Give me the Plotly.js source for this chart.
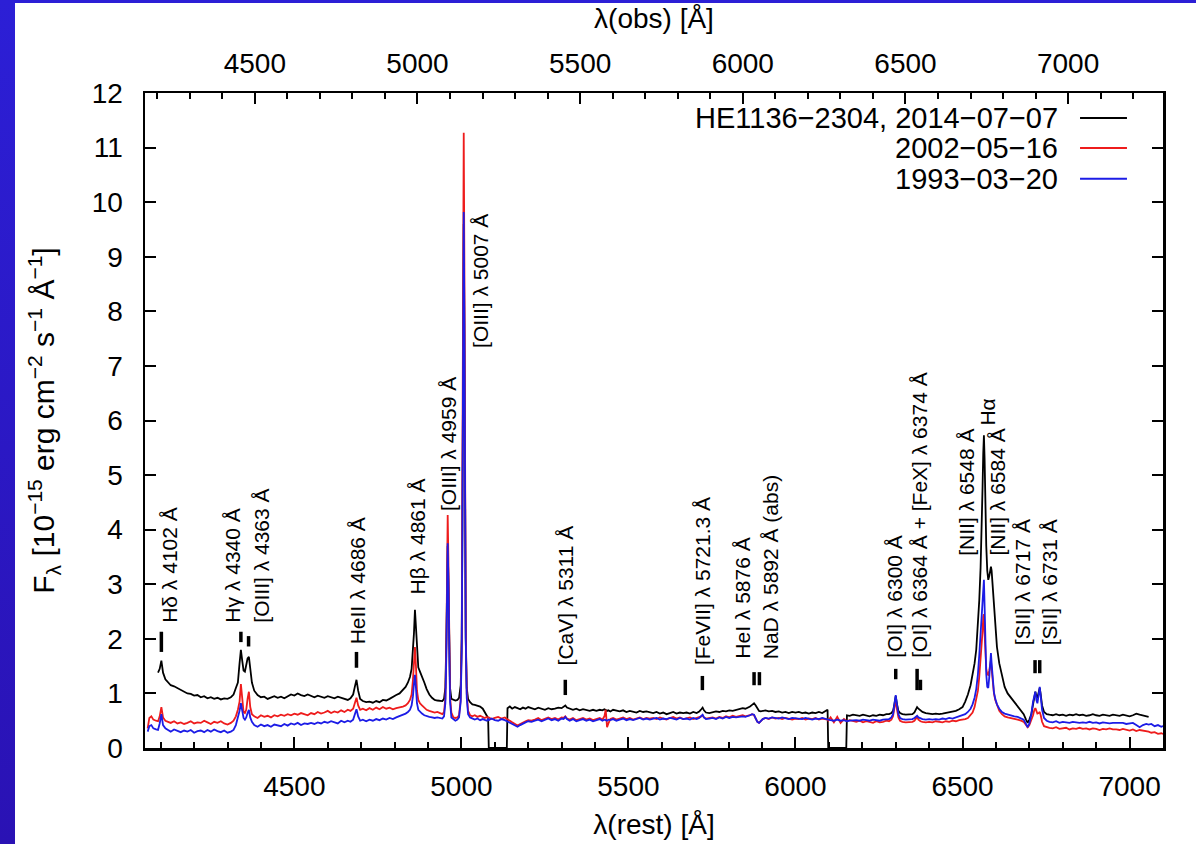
<!DOCTYPE html>
<html>
<head>
<meta charset="utf-8">
<script src="https://cdn.plot.ly/plotly-3.0.1.min.js"></script>
<style>
html,body{margin:0;padding:0;width:1196px;height:844px;overflow:hidden;background:linear-gradient(to bottom,#2c1fd6,#2a12b4);}
#plot{position:absolute;left:15px;top:3px;width:1181px;height:841px;background:#fff;}
</style>
</head>
<body>
<div id="plot"></div>
<script>
// rest-frame wavelength grid [Å]
const wave = [
4061,4066,4072,4078,4086,4092,4097,4102,4107,4114,
4122,4130,4140,4150,4160,4170,4180,4190,4200,4210,
4220,4230,4240,4250,4260,4270,4280,4290,4300,4310,
4318,4325,4331,4336,4340,4344,4348,4352,4356,4360,
4364,4368,4373,4380,4390,4400,4410,4420,4430,4440,
4450,4460,4470,4480,4490,4500,4510,4520,4530,4540,
4550,4560,4570,4580,4590,4600,4610,4620,4630,4640,
4650,4660,4668,4676,4681,4686,4691,4697,4705,4715,
4725,4735,4745,4755,4765,4775,4785,4795,4805,4815,
4825,4833,4840,4846,4851,4855,4858,4861,4864,4867,
4871,4876,4882,4889,4896,4904,4912,4920,4928,4936,
4943,4948,4952,4955,4957,4959,4961,4963,4966,4970,
4976,4982,4988,4993,4998,5001,5003,5005,5007,5009,
5011,5013,5016,5020,5026,5033,5040,5048,5056,5064,
5070,5076,5080,5082,5090,5100,5110,5120,5130,5136,
5138,5145,5152,5160,5168,5176,5184,5192,5200,5210,
5220,5230,5240,5250,5260,5270,5280,5290,5300,5306,
5311,5316,5324,5334,5344,5354,5364,5374,5384,5394,
5404,5414,5422,5428,5432,5436,5440,5446,5454,5464,
5474,5484,5494,5504,5514,5524,5534,5544,5554,5564,
5574,5584,5594,5604,5614,5624,5634,5644,5654,5664,
5674,5684,5694,5704,5712,5718,5722,5726,5732,5742,
5752,5762,5772,5782,5792,5802,5812,5822,5832,5842,
5850,5858,5864,5870,5876,5881,5886,5891,5896,5902,
5910,5920,5930,5940,5950,5960,5970,5980,5990,6000,
6010,6020,6030,6040,6050,6060,6070,6080,6090,6096,
6098,6105,6115,6125,6135,6145,6152,6154,6162,6172,
6182,6192,6202,6212,6222,6232,6242,6252,6262,6272,
6280,6287,6292,6296,6300,6304,6308,6313,6320,6330,
6340,6350,6356,6360,6364,6368,6374,6380,6390,6400,
6410,6420,6430,6440,6450,6460,6470,6480,6490,6500,
6508,6516,6524,6530,6536,6541,6546,6550,6554,6557,
6560,6562,6564,6566,6568,6571,6574,6577,6580,6583,
6585,6587,6590,6594,6598,6603,6610,6618,6626,6635,
6645,6655,6665,6675,6683,6690,6695,6700,6706,6711,
6715,6718,6721,6724,6728,6731,6734,6738,6744,6752,
6760,6770,6780,6790,6800,6810,6820,6830,6840,6850,
6860,6870,6880,6890,6900,6910,6920,6930,6940,6950,
6960,6970,6980,6990,7000,7010,7020,7030,7040,7050,
7057,7065,7075,7085,7095,7104
];

// HE1136-2304, 2014-07-07 (black)
const flux2014 = [
null,null,null,null,null,1.38,1.45,1.60,1.38,1.26,
1.20,1.15,1.13,1.10,1.06,1.04,1.00,0.99,0.96,0.97,
0.93,0.95,0.91,0.93,0.90,0.92,0.89,0.91,0.90,0.93,
0.98,1.10,1.20,1.55,1.80,1.60,1.42,1.40,1.50,1.64,
1.67,1.45,1.20,1.05,0.97,0.93,0.94,0.90,0.92,0.95,
0.92,0.94,0.91,0.95,0.98,0.96,1.00,0.97,0.95,0.98,
0.95,0.93,0.96,0.94,0.92,0.95,0.93,0.91,0.94,0.92,
0.90,0.88,0.91,0.98,1.12,1.25,1.05,0.90,0.86,0.84,
0.85,0.83,0.86,0.84,0.88,0.87,0.90,0.94,0.97,1.00,
1.06,1.12,1.20,1.30,1.45,1.75,2.10,2.53,2.20,1.70,
1.48,1.40,1.32,1.20,1.08,0.98,0.92,0.88,0.87,0.86,
0.86,0.90,1.10,2.00,3.10,3.70,3.10,2.00,1.10,0.90,
0.88,0.87,0.88,0.92,1.15,2.00,4.00,7.40,9.60,7.60,
4.10,2.00,1.10,0.90,0.84,0.80,0.79,0.78,0.76,0.72,
0.66,0.58,0.55,0,0,0,0,0,0,0,
0.73,0.76,0.72,0.75,0.73,0.71,0.74,0.72,0.75,0.73,
0.71,0.74,0.72,0.70,0.73,0.71,0.72,0.74,0.73,0.75,
0.78,0.74,0.72,0.70,0.72,0.69,0.71,0.70,0.68,0.70,
0.68,0.70,0.69,0.71,0.70,0.68,0.69,0.67,0.70,0.68,
0.67,0.69,0.66,0.68,0.67,0.65,0.68,0.66,0.67,0.65,
0.64,0.66,0.63,0.65,0.62,0.64,0.66,0.63,0.65,0.64,
0.65,0.63,0.66,0.64,0.67,0.71,0.74,0.69,0.65,0.64,
0.65,0.67,0.66,0.68,0.67,0.69,0.68,0.70,0.71,0.73,
0.72,0.74,0.76,0.79,0.82,0.78,0.72,0.68,0.67,0.68,
0.69,0.67,0.68,0.66,0.67,0.65,0.66,0.64,0.66,0.65,
0.66,0.64,0.65,0.63,0.65,0.64,0.66,0.64,0.67,0.70,
0,0,0,0,0,0,0,0.60,0.59,0.61,
0.60,0.59,0.61,0.60,0.58,0.60,0.59,0.61,0.60,0.62,
0.62,0.64,0.68,0.80,0.95,0.80,0.68,0.64,0.62,0.61,
0.61,0.62,0.65,0.70,0.75,0.72,0.69,0.66,0.64,0.63,
0.62,0.63,0.62,0.63,0.64,0.65,0.66,0.68,0.71,0.75,
0.85,0.98,1.15,1.32,1.55,1.80,2.20,2.70,3.30,3.90,
4.80,5.40,5.73,5.30,4.50,3.70,3.25,3.08,3.15,3.30,
3.32,3.25,3.00,2.60,2.20,1.85,1.55,1.30,1.12,1.00,
0.92,0.85,0.78,0.70,0.62,0.52,0.46,0.52,0.62,0.80,
0.95,1.03,0.95,0.92,1.02,1.10,0.98,0.78,0.66,0.62,
0.61,0.60,0.62,0.60,0.61,0.59,0.61,0.60,0.62,0.60,
0.61,0.59,0.60,0.62,0.60,0.59,0.61,0.60,0.59,0.61,
0.60,0.59,0.61,0.60,0.58,0.60,0.63,0.61,0.59,0.58,
0.57,null,null,null,null,null
];

// 2002-05-16 (red)
const flux2002 = [
0.36,0.55,0.58,0.52,0.50,0.49,0.58,0.75,0.56,0.50,
0.48,0.46,0.49,0.45,0.47,0.44,0.46,0.49,0.45,0.47,
0.46,0.50,0.47,0.44,0.48,0.46,0.49,0.45,0.43,0.46,
0.50,0.58,0.70,0.85,1.17,0.85,0.66,0.64,0.70,0.90,
1.03,0.75,0.62,0.58,0.55,0.60,0.57,0.59,0.56,0.60,
0.58,0.61,0.59,0.62,0.60,0.63,0.61,0.64,0.62,0.60,
0.64,0.62,0.66,0.63,0.65,0.68,0.64,0.67,0.65,0.69,
0.66,0.70,0.68,0.72,0.82,0.92,0.78,0.70,0.72,0.69,
0.73,0.70,0.74,0.71,0.75,0.72,0.74,0.71,0.73,0.74,
0.76,0.78,0.82,0.88,0.98,1.25,1.60,1.85,1.50,1.05,
0.88,0.82,0.78,0.74,0.70,0.68,0.67,0.65,0.66,0.64,
0.62,0.66,0.90,1.90,3.40,4.27,3.50,2.00,0.95,0.65,
0.56,0.55,0.56,0.60,0.90,2.00,4.50,8.50,11.27,8.80,
4.80,2.20,1.00,0.68,0.60,0.58,0.60,0.57,0.59,0.56,
0.55,0.57,0.54,0.56,0.53,0.55,0.57,0.54,0.56,0.53,
0.52,0.50,0.47,0.44,0.41,0.44,0.47,0.49,0.51,0.50,
0.52,0.55,0.51,0.54,0.56,0.53,0.55,0.52,0.56,0.55,
0.58,0.54,0.52,0.55,0.51,0.53,0.55,0.52,0.54,0.51,
0.53,0.55,0.52,0.58,0.70,0.38,0.45,0.53,0.55,0.52,
0.54,0.56,0.53,0.55,0.52,0.54,0.56,0.53,0.55,0.54,
0.55,0.53,0.56,0.54,0.52,0.55,0.57,0.54,0.56,0.53,
0.54,0.56,0.53,0.55,0.56,0.58,0.60,0.56,0.54,0.55,
0.56,0.54,0.57,0.55,0.58,0.56,0.59,0.57,0.58,0.60,
0.58,0.59,0.60,0.62,0.60,0.54,0.48,0.46,0.49,0.53,
0.55,0.53,0.56,0.54,0.55,0.53,0.55,0.54,0.52,0.54,
0.53,0.55,0.52,0.54,0.53,0.55,0.52,0.54,0.53,0.52,
0.50,0.56,0.47,0.57,0.46,0.53,0.50,0.49,0.51,0.49,
0.48,0.50,0.47,0.49,0.48,0.46,0.49,0.47,0.48,0.50,
0.49,0.52,0.58,0.72,0.88,0.70,0.56,0.50,0.48,0.47,
0.47,0.48,0.50,0.54,0.57,0.52,0.49,0.48,0.47,0.48,
0.47,0.49,0.48,0.47,0.49,0.48,0.50,0.49,0.51,0.52,
0.53,0.55,0.60,0.65,0.75,0.88,1.05,1.30,1.60,1.85,
2.15,2.40,2.45,2.10,1.75,1.45,1.35,1.34,1.42,1.58,
1.61,1.45,1.20,1.00,0.88,0.78,0.68,0.62,0.58,0.56,
0.55,0.54,0.52,0.50,0.48,0.42,0.38,0.42,0.50,0.60,
0.70,0.73,0.68,0.63,0.64,0.66,0.60,0.48,0.40,0.38,
0.37,0.36,0.38,0.35,0.36,0.37,0.34,0.36,0.35,0.37,
0.35,0.36,0.34,0.36,0.35,0.33,0.35,0.34,0.36,0.34,
0.34,0.33,0.35,0.33,0.32,0.34,0.31,0.33,0.32,0.30,
0.30,0.28,0.29,0.26,0.27,0.25
];

// 1993-03-20 (blue)
const flux1993 = [
0.30,0.40,0.42,0.36,0.34,0.33,0.45,0.62,0.42,0.36,
0.33,0.30,0.34,0.31,0.29,0.32,0.30,0.33,0.28,0.31,
0.32,0.29,0.33,0.30,0.34,0.31,0.29,0.32,0.28,0.30,
0.33,0.42,0.55,0.68,0.82,0.68,0.55,0.52,0.56,0.64,
0.70,0.56,0.48,0.42,0.39,0.43,0.40,0.42,0.39,0.43,
0.42,0.40,0.44,0.41,0.45,0.43,0.46,0.42,0.45,0.44,
0.46,0.44,0.47,0.45,0.48,0.46,0.49,0.47,0.45,0.50,
0.47,0.50,0.48,0.52,0.62,0.71,0.58,0.50,0.52,0.49,
0.52,0.50,0.53,0.51,0.54,0.52,0.55,0.53,0.56,0.58,
0.61,0.63,0.66,0.70,0.78,0.95,1.18,1.34,1.10,0.82,
0.70,0.66,0.63,0.60,0.58,0.57,0.56,0.55,0.56,0.55,
0.54,0.58,0.82,1.70,3.00,3.75,3.10,1.80,0.85,0.56,
0.52,0.50,0.52,0.56,0.85,1.80,4.00,7.50,9.82,7.80,
4.20,2.00,0.92,0.62,0.56,0.54,0.52,0.54,0.51,0.53,
0.52,0.50,0.53,0.51,0.54,0.51,0.50,0.53,0.51,0.49,
0.48,0.46,0.43,0.41,0.39,0.42,0.45,0.47,0.49,0.48,
0.50,0.52,0.49,0.52,0.54,0.51,0.53,0.50,0.54,0.53,
0.57,0.53,0.50,0.53,0.49,0.51,0.53,0.50,0.52,0.49,
0.51,0.53,0.50,0.52,0.51,0.50,0.52,0.51,0.53,0.50,
0.52,0.54,0.51,0.53,0.51,0.53,0.55,0.52,0.54,0.52,
0.53,0.55,0.52,0.54,0.53,0.55,0.54,0.52,0.55,0.53,
0.54,0.52,0.55,0.53,0.55,0.58,0.61,0.56,0.53,0.54,
0.55,0.53,0.56,0.54,0.57,0.55,0.57,0.56,0.57,0.58,
0.57,0.58,0.60,0.62,0.61,0.54,0.48,0.46,0.49,0.53,
0.55,0.54,0.56,0.55,0.54,0.56,0.55,0.53,0.55,0.54,
0.54,0.53,0.55,0.54,0.52,0.54,0.53,0.55,0.54,0.53,
0.52,0.51,0.50,0.52,0.50,0.51,0.50,0.49,0.50,0.51,
0.51,0.50,0.52,0.51,0.50,0.52,0.51,0.50,0.52,0.53,
0.53,0.56,0.62,0.80,0.97,0.78,0.62,0.55,0.53,0.52,
0.52,0.53,0.55,0.57,0.59,0.56,0.54,0.53,0.52,0.53,
0.52,0.53,0.52,0.54,0.53,0.55,0.54,0.56,0.57,0.59,
0.62,0.66,0.72,0.80,0.92,1.08,1.35,1.70,2.10,2.50,
2.85,3.05,3.08,2.60,1.90,1.35,1.12,1.10,1.30,1.65,
1.74,1.55,1.25,1.02,0.90,0.80,0.72,0.66,0.63,0.61,
0.60,0.58,0.57,0.55,0.52,0.44,0.38,0.45,0.62,0.85,
1.00,1.03,0.88,0.82,0.98,1.12,0.95,0.70,0.55,0.50,
0.48,0.47,0.49,0.46,0.48,0.47,0.46,0.48,0.47,0.46,
0.47,0.46,0.48,0.46,0.47,0.45,0.47,0.46,0.45,0.46,
0.46,0.45,0.46,0.44,0.45,0.46,0.42,0.38,0.42,0.44,
0.43,0.44,0.40,0.42,0.39,0.41
];

const seriesNames = ['HE1136\u22122304, 2014\u221207\u221207', '2002\u221205\u221216', '1993\u221203\u221220'];
const seriesColors = ['#000000', '#ee1c1c', '#1c1ce6'];
const redshift = 0.027;

// emission-line identifications: label text, label position (rest Å), label base (flux)
const lineLabels = [
  'H\u03b4 \u03bb 4102 \u00c5', 'H\u03b3 \u03bb 4340 \u00c5', '[OIII] \u03bb 4363 \u00c5', 'HeII \u03bb 4686 \u00c5',
  'H\u03b2 \u03bb 4861 \u00c5', '[OIII] \u03bb 4959 \u00c5', '[OIII] \u03bb 5007 \u00c5', '[CaV] \u03bb 5311 \u00c5',
  '[FeVII] \u03bb 5721.3 \u00c5', 'HeI \u03bb 5876 \u00c5', 'NaD \u03bb 5892 \u00c5 (abs)', '[OI] \u03bb 6300 \u00c5',
  '[OI] \u03bb 6364 \u00c5 + [FeX] \u03bb 6374 \u00c5', '[NII] \u03bb 6548 \u00c5', 'H\u03b1', '[NII] \u03bb 6584 \u00c5',
  '[SII] \u03bb 6717 \u00c5', '[SII] \u03bb 6731 \u00c5'
];
const labelWave = [4124, 4315, 4399, 4689, 4868, 4961, 5057, 5311, 5720, 5843, 5924, 6297, 6372, 6513, 6572, 6605, 6680, 6761];
const labelBase = [2.27, 2.27, 2.27, 1.88, 2.80, 4.33, 7.32, 1.50, 1.50, 1.61, 1.61, 1.64, 1.64, 3.51, 5.89, 3.51, 1.86, 1.86];

// short identification bars: rest wavelength, bottom, top (flux)
const barWave = [4102, 4340, 4363, 4686, 5311, 5721.3, 5876, 5892, 6300, 6364, 6374, 6717, 6731];
const barLow  = [1.76, 1.94, 1.86, 1.47, 0.97, 1.06, 1.15, 1.15, 1.26, 1.06, 1.06, 1.37, 1.37];
const barHigh = [2.13, 2.13, 2.05, 1.76, 1.25, 1.32, 1.39, 1.39, 1.45, 1.45, 1.25, 1.61, 1.61];

const fontFam = 'Liberation Sans, Arial, Helvetica, sans-serif';
const fluxes = [flux2014, flux2002, flux1993];

const traces = fluxes.map((f, i) => ({
  type: 'scatter', mode: 'lines', x: wave, y: f, name: seriesNames[i],
  line: {color: seriesColors[i], width: 1.8}, connectgaps: false, hoverinfo: 'skip'
}));
// carrier for the observed-frame axis (no visible marks)
traces.push({type: 'scatter', mode: 'lines', x: wave.map(w => w * (1 + redshift)), y: wave.map(() => null),
  xaxis: 'x2', yaxis: 'y', showlegend: false, hoverinfo: 'skip'});

const annotations = lineLabels.map((t, i) => ({
  x: labelWave[i], y: labelBase[i], xref: 'x', yref: 'y', text: t, showarrow: false,
  textangle: -90, xanchor: 'center', yanchor: 'bottom', borderpad: 0,
  font: {size: 21, color: '#000', family: fontFam}
}));

const shapes = barWave.map((w, i) => ({
  type: 'line', xref: 'x', yref: 'y', x0: w, x1: w, y0: barLow[i], y1: barHigh[i],
  line: {color: '#000', width: 3.5}
}));

// custom legend (text left, sample line right)
const legY = [0.962, 0.916, 0.869];
seriesNames.forEach((n, i) => {
  annotations.push({x: 0.898, y: legY[i], xref: 'paper', yref: 'paper', text: n, showarrow: false,
    xanchor: 'right', yanchor: 'middle', borderpad: 0, font: {size: 29, color: '#000', family: fontFam}});
  shapes.push({type: 'line', xref: 'paper', yref: 'paper', x0: 0.9185, x1: 0.9646, y0: legY[i], y1: legY[i],
    line: {color: seriesColors[i], width: 2}});
});

const axisCommon = {
  showline: true, linecolor: '#000', linewidth: 2.5, showgrid: false, zeroline: false,
  ticks: 'inside', tickcolor: '#000', tickwidth: 2, ticklen: 11,
  tickfont: {size: 28, color: '#000', family: fontFam}
};

const layout = {
  width: 1181, height: 841,
  margin: {l: 130, r: 33, t: 90, b: 96, pad: 0},
  paper_bgcolor: '#fff', plot_bgcolor: '#fff',
  font: {family: fontFam, color: '#000', size: 28},
  showlegend: false,
  xaxis: Object.assign({}, axisCommon, {
    range: [4053, 7100], tick0: 0, dtick: 500, tickformat: 'd',
    minor: {dtick: 100, tick0: 0, ticks: 'inside', ticklen: 6, tickwidth: 2, tickcolor: '#000', showgrid: false},
    ticklabelstandoff: 12,
    title: {text: '\u03bb(rest) [\u00c5]', font: {size: 28, family: fontFam}, standoff: 14},
    automargin: false
  }),
  xaxis2: Object.assign({}, axisCommon, {
    overlaying: 'x', side: 'top', anchor: 'y',
    range: [4053 * (1 + redshift), 7100 * (1 + redshift)], tick0: 0, dtick: 500, tickformat: 'd',
    minor: {dtick: 100, tick0: 0, ticks: 'inside', ticklen: 6, tickwidth: 2, tickcolor: '#000', showgrid: false},
    ticklabelstandoff: 6,
    title: {text: '\u03bb(obs) [\u00c5]', font: {size: 28, family: fontFam}, standoff: 20},
    automargin: false
  }),
  yaxis: Object.assign({}, axisCommon, {
    range: [0, 12], tick0: 0, dtick: 1, mirror: 'ticks',
    ticklabelstandoff: 14,
    title: {text: 'F<sub>\u03bb</sub> [10<sup>\u221215</sup> erg cm<sup>\u22122</sup> s<sup>\u22121</sup> \u00c5<sup>\u22121</sup>]',
      font: {size: 30, family: fontFam}, standoff: 28},
    automargin: false
  }),
  annotations: annotations,
  shapes: shapes
};

Plotly.newPlot('plot', traces, layout, {staticPlot: true, displayModeBar: false});
</script>
</body>
</html>
